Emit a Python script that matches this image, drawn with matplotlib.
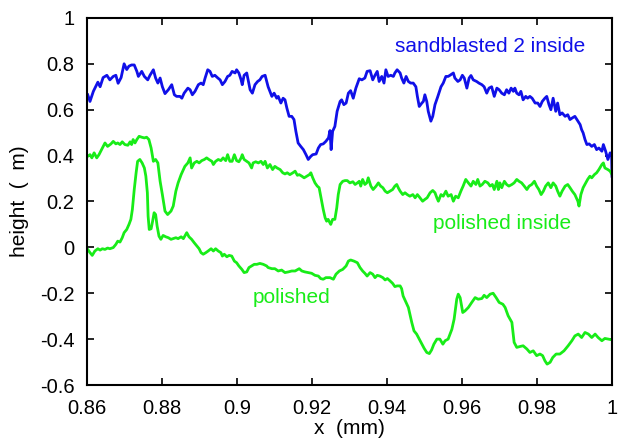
import matplotlib
matplotlib.use("Agg")
import matplotlib.pyplot as plt
from matplotlib.ticker import FuncFormatter

plt.rcParams['font.family'] = ['Liberation Sans', 'DejaVu Sans']
plt.rcParams['axes.unicode_minus'] = False

# sandblasted 2 inside (blue)
blue_x = [0.8602, 0.8608, 0.8617, 0.8629, 0.8635, 0.8643, 0.8653, 0.8661, 0.8670, 0.8677,
          0.8683, 0.8691, 0.8699, 0.8706, 0.8712, 0.8719, 0.8726, 0.8733, 0.8737, 0.8746,
          0.8753, 0.8762, 0.8768, 0.8777, 0.8783, 0.8789, 0.8795, 0.8801, 0.8808, 0.8817,
          0.8826, 0.8833, 0.8839, 0.8848, 0.8853, 0.8859, 0.8869, 0.8875, 0.8881, 0.8888,
          0.8897, 0.8904, 0.8910, 0.8915, 0.8922, 0.8928, 0.8934, 0.8941, 0.8949, 0.8955,
          0.8961, 0.8968, 0.8975, 0.8981, 0.8987, 0.8995, 0.8999, 0.9005, 0.9011, 0.9014,
          0.9019, 0.9026, 0.9035, 0.9041, 0.9048, 0.9055, 0.9061, 0.9067, 0.9075, 0.9083,
          0.9093, 0.9099, 0.9106, 0.9110, 0.9117, 0.9123, 0.9128, 0.9133, 0.9139, 0.9146,
          0.9152, 0.9157, 0.9163, 0.9170, 0.9177, 0.9184, 0.9190, 0.9197, 0.9202, 0.9211,
          0.9217, 0.9223, 0.9230, 0.9237, 0.9244, 0.9248, 0.9251, 0.9255, 0.9261, 0.9267,
          0.9275, 0.9279, 0.9285, 0.9291, 0.9297, 0.9303, 0.9310, 0.9317, 0.9326, 0.9333,
          0.9341, 0.9347, 0.9355, 0.9362, 0.9368, 0.9374, 0.9379, 0.9386, 0.9392, 0.9397,
          0.9403, 0.9410, 0.9417, 0.9421, 0.9427, 0.9435, 0.9439, 0.9445, 0.9451, 0.9457,
          0.9463, 0.9470, 0.9477, 0.9481, 0.9486, 0.9493, 0.9497, 0.9501, 0.9506, 0.9510,
          0.9517, 0.9522, 0.9528, 0.9535, 0.9544, 0.9550, 0.9557, 0.9563, 0.9568, 0.9577,
          0.9581, 0.9589, 0.9595, 0.9601, 0.9606, 0.9613, 0.9619, 0.9624, 0.9630, 0.9639,
          0.9645, 0.9653, 0.9659, 0.9666, 0.9672, 0.9679, 0.9686, 0.9693, 0.9699, 0.9706,
          0.9713, 0.9719, 0.9725, 0.9731, 0.9737, 0.9741, 0.9746, 0.9752, 0.9757, 0.9763,
          0.9770, 0.9775, 0.9781, 0.9787, 0.9795, 0.9802, 0.9808, 0.9814, 0.9821, 0.9826,
          0.9832, 0.9837, 0.9843, 0.9850, 0.9855, 0.9861, 0.9867, 0.9875, 0.9882, 0.9888,
          0.9894, 0.9901, 0.9909, 0.9915, 0.9919, 0.9923, 0.9928, 0.9933, 0.9939, 0.9946,
          0.9953, 0.9959, 0.9965, 0.9973, 0.9977, 0.9983, 0.9989, 0.9995, 0.9999, 1.0]
blue_y = [0.665, 0.636, 0.680, 0.720, 0.700, 0.740, 0.750, 0.730, 0.745, 0.750,
          0.715, 0.740, 0.800, 0.775, 0.790, 0.795, 0.795, 0.767, 0.745, 0.767,
          0.745, 0.730, 0.750, 0.774, 0.738, 0.716, 0.738, 0.700, 0.670, 0.687,
          0.709, 0.665, 0.658, 0.658, 0.650, 0.672, 0.694, 0.687, 0.665, 0.680,
          0.709, 0.716, 0.709, 0.738, 0.774, 0.767, 0.745, 0.750, 0.738, 0.730,
          0.709, 0.723, 0.745, 0.750, 0.767, 0.760, 0.774, 0.760, 0.730, 0.709,
          0.750, 0.760, 0.687, 0.672, 0.709, 0.723, 0.730, 0.745, 0.750, 0.700,
          0.658, 0.672, 0.650, 0.658, 0.629, 0.650, 0.643, 0.607, 0.571, 0.571,
          0.557, 0.506, 0.455, 0.440, 0.426, 0.404, 0.383, 0.397, 0.404, 0.407,
          0.433, 0.448, 0.451, 0.462, 0.477, 0.509, 0.426, 0.506, 0.527, 0.593,
          0.636, 0.643, 0.622, 0.629, 0.672, 0.683, 0.650, 0.694, 0.735, 0.730,
          0.738, 0.767, 0.770, 0.730, 0.750, 0.767, 0.723, 0.745, 0.716, 0.774,
          0.745, 0.750, 0.745, 0.760, 0.774, 0.760, 0.738, 0.716, 0.745, 0.723,
          0.716, 0.716, 0.700, 0.658, 0.614, 0.629, 0.636, 0.665, 0.636, 0.593,
          0.550, 0.571, 0.622, 0.655, 0.700, 0.716, 0.745, 0.745, 0.750, 0.760,
          0.738, 0.723, 0.730, 0.750, 0.738, 0.694, 0.738, 0.749, 0.730, 0.723,
          0.716, 0.709, 0.700, 0.672, 0.694, 0.700, 0.658, 0.694, 0.687, 0.672,
          0.665, 0.687, 0.672, 0.694, 0.680, 0.694, 0.672, 0.665, 0.680, 0.643,
          0.658, 0.650, 0.658, 0.650, 0.629, 0.629, 0.614, 0.636, 0.650, 0.658,
          0.622, 0.600, 0.650, 0.593, 0.629, 0.578, 0.586, 0.571, 0.578, 0.557,
          0.564, 0.571, 0.550, 0.535, 0.513, 0.499, 0.470, 0.448, 0.451, 0.440,
          0.448, 0.426, 0.433, 0.419, 0.448, 0.419, 0.383, 0.412, 0.400, 0.310]

# polished inside (upper green)
pin_x = [0.8602, 0.8608, 0.8613, 0.8619, 0.8626, 0.8632, 0.8639, 0.8648, 0.8655, 0.8664,
         0.8670, 0.8677, 0.8682, 0.8688, 0.8694, 0.8701, 0.8709, 0.8715, 0.8719, 0.8723,
         0.8728, 0.8733, 0.8739, 0.8746, 0.8753, 0.8759, 0.8765, 0.8771, 0.8777, 0.8783,
         0.8789, 0.8795, 0.8801, 0.8808, 0.8815, 0.8824, 0.8830, 0.8837, 0.8843, 0.8851,
         0.8857, 0.8861, 0.8869, 0.8875, 0.8879, 0.8886, 0.8893, 0.8899, 0.8906, 0.8913,
         0.8919, 0.8925, 0.8933, 0.8937, 0.8943, 0.8950, 0.8957, 0.8963, 0.8970, 0.8975,
         0.8981, 0.8987, 0.8993, 0.8999, 0.9005, 0.9011, 0.9014, 0.9019, 0.9026, 0.9032,
         0.9039, 0.9043, 0.9050, 0.9057, 0.9064, 0.9070, 0.9075, 0.9081, 0.9088, 0.9095,
         0.9101, 0.9107, 0.9115, 0.9122, 0.9128, 0.9134, 0.9141, 0.9149, 0.9155, 0.9161,
         0.9166, 0.9173, 0.9179, 0.9186, 0.9193, 0.9197, 0.9202, 0.9208, 0.9214, 0.9219,
         0.9226, 0.9230, 0.9235, 0.9239, 0.9243, 0.9250, 0.9255, 0.9261, 0.9266, 0.9270,
         0.9275, 0.9282, 0.9288, 0.9294, 0.9301, 0.9309, 0.9315, 0.9321, 0.9326, 0.9330,
         0.9335, 0.9341, 0.9346, 0.9350, 0.9357, 0.9363, 0.9371, 0.9377, 0.9383, 0.9389,
         0.9395, 0.9401, 0.9408, 0.9415, 0.9421, 0.9426, 0.9430, 0.9435, 0.9442, 0.9448,
         0.9454, 0.9461, 0.9469, 0.9475, 0.9481, 0.9488, 0.9495, 0.9501, 0.9507, 0.9515,
         0.9522, 0.9528, 0.9533, 0.9537, 0.9544, 0.9550, 0.9557, 0.9563, 0.9571, 0.9577,
         0.9583, 0.9590, 0.9597, 0.9603, 0.9610, 0.9617, 0.9624, 0.9630, 0.9637, 0.9642,
         0.9648, 0.9654, 0.9661, 0.9669, 0.9675, 0.9681, 0.9686, 0.9693, 0.9697, 0.9701,
         0.9706, 0.9713, 0.9719, 0.9725, 0.9733, 0.9739, 0.9746, 0.9752, 0.9759, 0.9766,
         0.9773, 0.9779, 0.9786, 0.9793, 0.9799, 0.9805, 0.9811, 0.9817, 0.9823, 0.9830,
         0.9837, 0.9843, 0.9850, 0.9855, 0.9861, 0.9867, 0.9875, 0.9882, 0.9888, 0.9894,
         0.9901, 0.9909, 0.9912, 0.9917, 0.9923, 0.9930, 0.9935, 0.9941, 0.9946, 0.9953,
         0.9959, 0.9965, 0.9973, 0.9977, 0.9981, 0.9989, 0.9995, 1.0]
pin_y = [0.397, 0.404, 0.390, 0.412, 0.390, 0.404, 0.426, 0.455, 0.440, 0.451,
         0.462, 0.451, 0.455, 0.448, 0.460, 0.448, 0.445, 0.460, 0.448, 0.470,
         0.455, 0.470, 0.484, 0.480, 0.477, 0.480, 0.470, 0.433, 0.375, 0.383,
         0.368, 0.288, 0.230, 0.158, 0.143, 0.158, 0.180, 0.245, 0.281, 0.317,
         0.339, 0.353, 0.368, 0.390, 0.346, 0.368, 0.375, 0.368, 0.378, 0.383,
         0.390, 0.383, 0.375, 0.361, 0.375, 0.383, 0.378, 0.390, 0.378, 0.404,
         0.375, 0.375, 0.404, 0.378, 0.373, 0.390, 0.404, 0.383, 0.375, 0.368,
         0.346, 0.368, 0.373, 0.368, 0.375, 0.361, 0.375, 0.346, 0.361, 0.339,
         0.353, 0.346, 0.339, 0.325, 0.320, 0.325, 0.317, 0.325, 0.332, 0.314,
         0.317, 0.310, 0.303, 0.310, 0.317, 0.325, 0.303, 0.281, 0.267, 0.260,
         0.201, 0.165, 0.129, 0.114, 0.122, 0.100, 0.122, 0.122, 0.172, 0.230,
         0.274, 0.288, 0.291, 0.291, 0.281, 0.286, 0.274, 0.281, 0.288, 0.267,
         0.296, 0.274, 0.281, 0.303, 0.267, 0.252, 0.267, 0.281, 0.267, 0.260,
         0.245, 0.238, 0.245, 0.252, 0.267, 0.274, 0.260, 0.245, 0.230, 0.238,
         0.230, 0.223, 0.230, 0.216, 0.230, 0.216, 0.201, 0.209, 0.216, 0.238,
         0.248, 0.238, 0.216, 0.201, 0.230, 0.223, 0.245, 0.223, 0.230, 0.201,
         0.223, 0.216, 0.245, 0.267, 0.296, 0.281, 0.267, 0.288, 0.274, 0.296,
         0.267, 0.274, 0.288, 0.281, 0.267, 0.274, 0.252, 0.288, 0.252, 0.281,
         0.260, 0.288, 0.274, 0.267, 0.274, 0.281, 0.296, 0.288, 0.281, 0.267,
         0.252, 0.267, 0.274, 0.288, 0.267, 0.252, 0.230, 0.245, 0.267, 0.281,
         0.260, 0.281, 0.267, 0.245, 0.223, 0.245, 0.267, 0.274, 0.260, 0.245,
         0.230, 0.201, 0.180, 0.230, 0.260, 0.281, 0.296, 0.310, 0.303, 0.317,
         0.325, 0.339, 0.361, 0.368, 0.346, 0.339, 0.332, 0.317]

# polished (lower green)
pol_x = [0.8602, 0.8608, 0.8614, 0.8621, 0.8629, 0.8635, 0.8641, 0.8648, 0.8655, 0.8661,
         0.8670, 0.8677, 0.8682, 0.8688, 0.8694, 0.8699, 0.8706, 0.8712, 0.8717, 0.8721,
         0.8726, 0.8731, 0.8735, 0.8741, 0.8747, 0.8753, 0.8757, 0.8761, 0.8763, 0.8766,
         0.8771, 0.8775, 0.8779, 0.8783, 0.8787, 0.8792, 0.8797, 0.8803, 0.8810, 0.8817,
         0.8824, 0.8830, 0.8837, 0.8843, 0.8851, 0.8857, 0.8866, 0.8872, 0.8879, 0.8886,
         0.8893, 0.8899, 0.8904, 0.8910, 0.8917, 0.8923, 0.8931, 0.8937, 0.8943, 0.8950,
         0.8957, 0.8961, 0.8966, 0.8973, 0.8979, 0.8986, 0.8993, 0.8999, 0.9005, 0.9013,
         0.9019, 0.9026, 0.9032, 0.9039, 0.9046, 0.9053, 0.9061, 0.9070, 0.9079, 0.9083,
         0.9093, 0.9101, 0.9110, 0.9119, 0.9128, 0.9137, 0.9146, 0.9155, 0.9166, 0.9173,
         0.9181, 0.9190, 0.9199, 0.9208, 0.9217, 0.9223, 0.9230, 0.9237, 0.9248, 0.9257,
         0.9264, 0.9273, 0.9282, 0.9291, 0.9297, 0.9303, 0.9312, 0.9321, 0.9328, 0.9335,
         0.9341, 0.9347, 0.9355, 0.9362, 0.9368, 0.9374, 0.9381, 0.9389, 0.9395, 0.9401,
         0.9408, 0.9415, 0.9421, 0.9427, 0.9435, 0.9439, 0.9443, 0.9451, 0.9457, 0.9461,
         0.9466, 0.9472, 0.9479, 0.9486, 0.9493, 0.9499, 0.9506, 0.9513, 0.9519, 0.9525,
         0.9533, 0.9541, 0.9549, 0.9555, 0.9563, 0.9573, 0.9579, 0.9586, 0.9590, 0.9595,
         0.9602, 0.9608, 0.9617, 0.9626, 0.9635, 0.9643, 0.9653, 0.9659, 0.9666, 0.9675,
         0.9683, 0.9691, 0.9699, 0.9709, 0.9715, 0.9723, 0.9733, 0.9739, 0.9746, 0.9755,
         0.9763, 0.9773, 0.9781, 0.9790, 0.9799, 0.9808, 0.9815, 0.9821, 0.9827, 0.9835,
         0.9842, 0.9851, 0.9861, 0.9872, 0.9883, 0.9893, 0.9901, 0.9910, 0.9919, 0.9928,
         0.9937, 0.9946, 0.9955, 0.9963, 0.9973, 0.9981, 0.9990, 1.0]
pol_y = [-0.009, -0.023, -0.035, -0.016, -0.006, -0.012, -0.006, -0.009, -0.003, -0.006,
         -0.001, 0.013, 0.027, 0.023, 0.042, 0.064, 0.078, 0.100, 0.122, 0.165,
         0.252, 0.325, 0.375, 0.383, 0.368, 0.346, 0.310, 0.238, 0.136, 0.078,
         0.081, 0.114, 0.151, 0.143, 0.093, 0.049, 0.035, 0.052, 0.046, 0.042,
         0.035, 0.038, 0.042, 0.038, 0.046, 0.038, 0.064, 0.046, 0.035, 0.020,
         0.006, -0.006, -0.023, -0.030, -0.023, -0.016, -0.006, -0.016, -0.006, -0.016,
         -0.023, -0.038, -0.030, -0.041, -0.035, -0.038, -0.060, -0.067, -0.081, -0.096,
         -0.110, -0.107, -0.088, -0.081, -0.074, -0.074, -0.070, -0.074, -0.081, -0.088,
         -0.093, -0.093, -0.103, -0.099, -0.110, -0.107, -0.103, -0.103, -0.093, -0.103,
         -0.107, -0.110, -0.113, -0.122, -0.125, -0.136, -0.139, -0.132, -0.132, -0.139,
         -0.117, -0.103, -0.096, -0.081, -0.060, -0.055, -0.060, -0.067, -0.088, -0.103,
         -0.113, -0.125, -0.110, -0.117, -0.132, -0.122, -0.125, -0.132, -0.142, -0.136,
         -0.146, -0.157, -0.171, -0.168, -0.168, -0.180, -0.212, -0.240, -0.262, -0.291,
         -0.327, -0.364, -0.378, -0.400, -0.422, -0.440, -0.458, -0.463, -0.447, -0.422,
         -0.400, -0.400, -0.422, -0.407, -0.400, -0.357, -0.313, -0.226, -0.204, -0.219,
         -0.284, -0.277, -0.262, -0.240, -0.219, -0.226, -0.223, -0.209, -0.219, -0.204,
         -0.200, -0.219, -0.240, -0.248, -0.262, -0.298, -0.327, -0.414, -0.436, -0.432,
         -0.429, -0.443, -0.458, -0.451, -0.472, -0.465, -0.472, -0.494, -0.509, -0.501,
         -0.480, -0.465, -0.465, -0.451, -0.429, -0.407, -0.386, -0.378, -0.393, -0.371,
         -0.378, -0.393, -0.378, -0.393, -0.407, -0.397, -0.400, -0.403]

x_ticks = [0.86, 0.88, 0.90, 0.92, 0.94, 0.96, 0.98, 1.00]
y_ticks = [-0.6, -0.4, -0.2, 0.0, 0.2, 0.4, 0.6, 0.8, 1.0]

BLUE = '#1010e8'
GREEN = '#18ec18'

fig = plt.figure(figsize=(6.2, 4.48), dpi=100)
ax = fig.add_axes([0.1403, 0.1406, 0.8468, 0.8194])

ax.plot(blue_x, blue_y, color=BLUE, lw=2.0)
ax.plot(pin_x, pin_y, color=GREEN, lw=2.0)
ax.plot(pol_x, pol_y, color=GREEN, lw=2.0)

ax.set_xlim(0.86, 1.0)
ax.set_ylim(-0.6, 1.0)
ax.set_xticks(x_ticks)
ax.set_yticks(y_ticks)
fmt = FuncFormatter(lambda v, p: ('%g' % round(v, 4)))
ax.xaxis.set_major_formatter(fmt)
ax.yaxis.set_major_formatter(fmt)
ax.tick_params(direction='in', length=5, width=1.2, labelsize=14.5,
               top=True, right=True, colors='black')
ax.tick_params(axis='x', pad=10)
ax.tick_params(axis='y', pad=9)
for s in ax.spines.values():
    s.set_linewidth(1.5)

ax.set_xlabel('x  (mm)', fontsize=15, labelpad=1)
ax.set_ylabel('height  (  m)', fontsize=15, labelpad=8)

ax.text(0.9421, 0.874, 'sandblasted 2 inside', color=BLUE, fontsize=15, va='center', ha='left')
ax.text(0.9523, 0.104, 'polished inside', color=GREEN, fontsize=15, va='center', ha='left')
ax.text(0.9043, -0.217, 'polished', color=GREEN, fontsize=15, va='center', ha='left')

fig.savefig('out.png', dpi=100)
